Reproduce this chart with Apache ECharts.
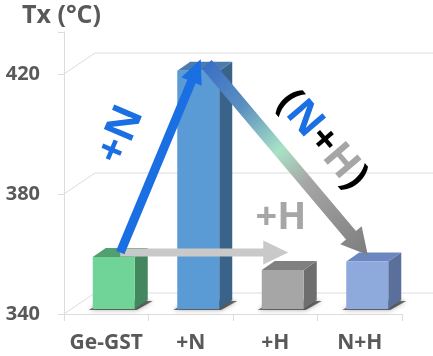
<!DOCTYPE html>
<html>
<head>
<meta charset="utf-8">
<script src="https://cdn.jsdelivr.net/npm/echarts@6/dist/echarts.min.js"></script>
<style>
html,body{margin:0;padding:0;background:#fff;}
#chart{width:433px;height:356px;}
</style>
</head>
<body>
<div id="chart"></div>
<script>
// ---- data ----
const categories = ['Ge-GST', '+N', '+H', 'N+H'];
const txValues = [357.3, 419.4, 353.0, 355.8];
const yTickValues = [340, 380, 420];
const axisTitle = 'Tx (°C)';
// transitions drawn as arrows: [fromIndex, toIndex]
const arrowN = [0, 1];
const arrowNH = [1, 3];
const arrowH = [0, 2];

// ---- styles ----
const frontColors = ['#70d398', '#5b9bd5', '#a6a6a6', '#8eaadc'];
const sideColors  = ['#43875e', '#3a6389', '#6e6e6e', '#5a6f9a'];
const topColors   = ['#529f70', '#4a7cad', '#808080', '#6c87bf'];
const FONT = '"Open Sans", "DejaVu Sans", sans-serif';
const TXT = '#595959';
const GRIDC = '#dcdcdc';
const DX = 7.5, DY = -5, HW = 21, DEPX = 13, DEPY = -9;  // 3D bar geometry
const BACKX = 31, BACKY = -21;                           // back wall offset

function barGeom(api, i, v) {
  const c = api.coord([i, v]);
  const b = api.coord([i, 340]);
  const cx = c[0] + DX;
  return { x0: cx - HW, x1: cx + HW, yt: c[1] + DY, yb: b[1] + DY };
}
function topCenter(api, i) {
  const g = barGeom(api, i, txValues[i]);
  return [(g.x0 + g.x1) / 2 + DEPX / 2, g.yt + DEPY / 2];
}
function arrowPoly(s, e, w, hw, hl) {
  const dx = e[0] - s[0], dy = e[1] - s[1];
  const L = Math.sqrt(dx * dx + dy * dy);
  const ux = dx / L, uy = dy / L, nx = -uy, ny = ux;
  const bx = e[0] - ux * hl, by = e[1] - uy * hl;
  return [
    [s[0] + nx * w / 2, s[1] + ny * w / 2],
    [bx + nx * w / 2, by + ny * w / 2],
    [bx + nx * hw / 2, by + ny * hw / 2],
    [e[0], e[1]],
    [bx - nx * hw / 2, by - ny * hw / 2],
    [bx - nx * w / 2, by - ny * w / 2],
    [s[0] - nx * w / 2, s[1] - ny * w / 2]
  ];
}

const chart = echarts.init(document.getElementById('chart'), null, { renderer: 'canvas' });

const richBase = { fontFamily: FONT, fontSize: 41, fontWeight: 'bold' };
const option = {
  animation: false,
  backgroundColor: '#ffffff',
  title: {
    text: axisTitle, left: 17, top: -2,
    textStyle: { fontFamily: FONT, fontSize: 25, fontWeight: 'bold', color: TXT }
  },
  grid: { left: 64, right: 31, top: 32, bottom: 42 },
  xAxis: {
    type: 'category', data: categories,
    axisLine: { show: true, lineStyle: { color: GRIDC, width: 1 } },
    axisTick: { show: true, length: 7, alignWithLabel: false, lineStyle: { color: GRIDC } },
    axisLabel: { interval: 0, fontFamily: FONT, fontSize: 21, fontWeight: 'bold', color: TXT, margin: 19 },
    splitLine: { show: false }
  },
  yAxis: {
    type: 'value', min: 340, max: 434, interval: 40,
    axisLine: { show: true, lineStyle: { color: GRIDC, width: 1 } },
    axisTick: { show: true, length: 6, lineStyle: { color: GRIDC } },
    axisLabel: {
      fontFamily: FONT, fontSize: 20, fontWeight: 'bold', color: TXT, margin: 24,
      formatter: v => (yTickValues.indexOf(v) >= 0 ? String(v) : '')
    },
    splitLine: { show: false }
  },
  series: [
    { // 3D back-wall / floor grid lines
      type: 'custom', z: 1, silent: true,
      data: yTickValues.map(v => [0, v]),
      renderItem: function (params, api) {
        const cs = params.coordSys;
        const y = api.coord([0, api.value(1)])[1];
        return {
          type: 'polyline',
          shape: { points: [[cs.x, y], [cs.x + BACKX, y + BACKY], [cs.x + cs.width + BACKX, y + BACKY]] },
          style: { stroke: GRIDC, lineWidth: 1, fill: null }
        };
      }
    },
    { // 3D bars
      type: 'custom', z: 2, silent: true,
      data: txValues.map((v, i) => [i, v]),
      renderItem: function (params, api) {
        const i = api.value(0), v = api.value(1);
        const g = barGeom(api, i, v);
        return {
          type: 'group',
          children: [
            { type: 'polygon',
              shape: { points: [[g.x0 - 4, g.yb + 1], [g.x1 + 2, g.yb + 1], [g.x1 + DEPX + 5, g.yb + DEPY + 1], [g.x0 + DEPX, g.yb + DEPY]] },
              style: { fill: 'rgba(0,0,0,0.55)', shadowBlur: 5, shadowColor: 'rgba(0,0,0,0.6)' } },
            { type: 'polygon',
              shape: { points: [[g.x1, g.yt], [g.x1 + DEPX, g.yt + DEPY], [g.x1 + DEPX, g.yb + DEPY], [g.x1, g.yb]] },
              style: { fill: sideColors[i] } },
            { type: 'polygon',
              shape: { points: [[g.x0, g.yt], [g.x1, g.yt], [g.x1 + DEPX, g.yt + DEPY], [g.x0 + DEPX, g.yt + DEPY]] },
              style: { fill: topColors[i] } },
            { type: 'rect',
              shape: { x: g.x0, y: g.yt, width: g.x1 - g.x0, height: g.yb - g.yt },
              style: { fill: frontColors[i] } }
          ]
        };
      }
    },
    { // transition arrows
      type: 'custom', z: 5, silent: true,
      data: [[0, 340]],
      renderItem: function (params, api) {
        const s0 = topCenter(api, arrowH[0]);
        const t2 = topCenter(api, arrowH[1]);
        const hEnd = [t2[0] - 1, s0[1]];
        const sN = topCenter(api, arrowN[0]);
        const eN0 = topCenter(api, arrowN[1]);
        const eN = [eN0[0] - 4, eN0[1] - 7];
        const sNH0 = topCenter(api, arrowNH[0]);
        const sNH = [sNH0[0] + 2, sNH0[1] - 2];
        const eNH0 = topCenter(api, arrowNH[1]);
        const eNH = [eNH0[0] - 6, eNH0[1] - 2];
        return {
          type: 'group',
          children: [
            { type: 'polygon', shape: { points: arrowPoly(s0, hEnd, 8, 24, 25) },
              style: { fill: '#c9c9c9' } },
            { type: 'polygon', shape: { points: arrowPoly(sN, eN, 9, 22, 24) },
              style: { fill: '#1a6fe3' } },
            { type: 'polygon', shape: { points: arrowPoly(sNH, eNH, 13, 28, 26) },
              style: { fill: {
                type: 'linear', x: sNH[0], y: sNH[1], x2: eNH[0], y2: eNH[1], global: true,
                colorStops: [
                  { offset: 0, color: '#3b6fc6' },
                  { offset: 0.22, color: '#5b8fc0' },
                  { offset: 0.45, color: '#a8e2c6' },
                  { offset: 0.62, color: '#a6a6a6' },
                  { offset: 1, color: '#7d7d7d' }
                ] } } }
          ]
        };
      }
    }
  ],
  graphic: [
    { type: 'text', x: 121, y: 135, rotation: 67 * Math.PI / 180, z: 100,
      style: { text: '+N', fontFamily: FONT, fontSize: 42, fontWeight: 'bold', fill: '#1a6fe3',
               align: 'center', verticalAlign: 'middle' } },
    { type: 'text', x: 322, y: 140, rotation: -49.5 * Math.PI / 180, z: 100,
      style: { text: '{p|(}{n|N}{k|+}{h|H}{p|)}', align: 'center', verticalAlign: 'middle',
               rich: {
                 p: Object.assign({ fill: '#000000' }, richBase),
                 n: Object.assign({ fill: '#1a6fe3' }, richBase),
                 k: Object.assign({ fill: '#000000' }, richBase),
                 h: Object.assign({ fill: '#a6a6a6' }, richBase)
               } } },
    { type: 'text', x: 281, y: 218, z: 100,
      style: { text: '+H', fontFamily: FONT, fontSize: 38, fontWeight: 'bold', fill: '#a6a6a6',
               align: 'center', verticalAlign: 'middle' } }
  ]
};
chart.setOption(option);
</script>
</body>
</html>
